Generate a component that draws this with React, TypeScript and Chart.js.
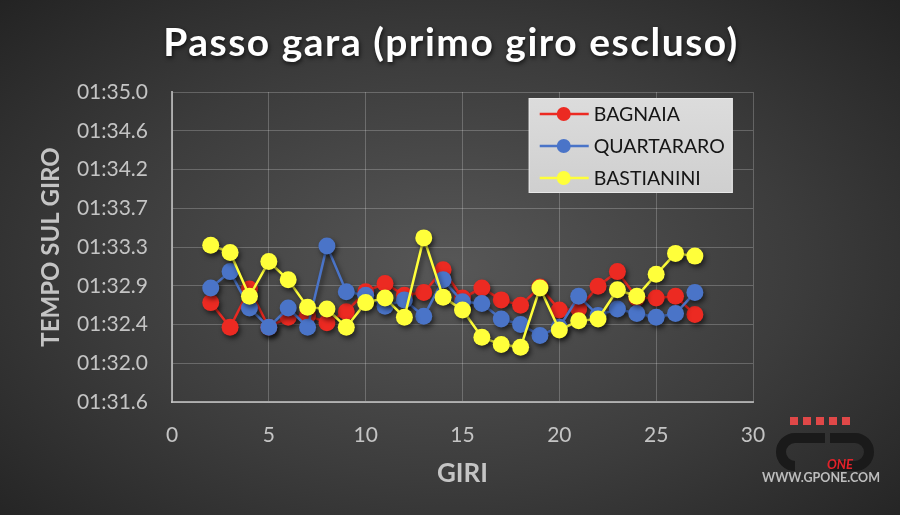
import React, { useEffect, useRef } from "react";
import { Chart, registerables } from "chart.js";

Chart.register(...registerables);

const laps = [2, 3, 4, 5, 6, 7, 8, 9, 10, 11, 12, 13, 14, 15, 16, 17, 18, 19, 20, 21, 22, 23, 24, 25, 26, 27];
const bagnaia = [92.69, 92.42, 92.84, 92.42, 92.53, 92.55, 92.47, 92.59, 92.81, 92.9, 92.77, 92.8, 93.05, 92.74, 92.85, 92.72, 92.66, 92.86, 92.61, 92.62, 92.87, 93.03, 92.74, 92.74, 92.76, 92.56];
const quartararo = [92.85, 93.03, 92.63, 92.42, 92.63, 92.42, 93.31, 92.81, 92.77, 92.65, 92.72, 92.54, 92.94, 92.7, 92.68, 92.51, 92.45, 92.33, 92.42, 92.76, 92.55, 92.62, 92.57, 92.53, 92.57, 92.8];
const bastianini = [93.32, 93.24, 92.76, 93.14, 92.94, 92.64, 92.62, 92.42, 92.69, 92.74, 92.53, 93.4, 92.75, 92.61, 92.31, 92.23, 92.2, 92.85, 92.39, 92.49, 92.51, 92.83, 92.76, 93.0, 93.23, 93.2];
const seriesNames = ["BAGNAIA", "QUARTARARO", "BASTIANINI"];
const yTickValues = [91.6, 92.025, 92.45, 92.875, 93.3, 93.725, 94.15, 94.575, 95.0];
const yTickLabels = ["01:31.6", "01:32.0", "01:32.4", "01:32.9", "01:33.3", "01:33.7", "01:34.2", "01:34.6", "01:35.0"];
const titleText = "Passo gara (primo giro escluso)";
const xTitle = "GIRI";
const yTitle = "TEMPO SUL GIRO";

const COLORS = ["#ec2a22", "#4a74c8", "#ffff3a"];
const FONT = "Lato, 'Open Sans', sans-serif";

export default function App() {
  const ref = useRef<HTMLCanvasElement | null>(null);

  useEffect(() => {
    const canvas = ref.current;
    if (!canvas) return;
    const mk = (data: number[]) => laps.map((x, i) => ({ x, y: data[i] }));
    const all = [bagnaia, quartararo, bastianini];

    const deco = {
      id: "deco",
      beforeDatasetsDraw(chart: any) {
        const ctx = chart.ctx;
        ctx.save();
        ctx.shadowColor = "rgba(0,0,0,0.55)";
        ctx.shadowBlur = 5;
        ctx.shadowOffsetX = 2;
        ctx.shadowOffsetY = 3;
      },
      afterDatasetsDraw(chart: any) {
        chart.ctx.restore();
      },
      afterDraw(chart: any) {
        const ctx = chart.ctx;
        const a = chart.chartArea;
        ctx.save();
        // title
        ctx.fillStyle = "#ffffff";
        ctx.shadowColor = "rgba(0,0,0,0.7)";
        ctx.shadowBlur = 4;
        ctx.shadowOffsetX = 1;
        ctx.shadowOffsetY = 2;
        ctx.font = `bold 39px ${FONT}`;
        (ctx as any).letterSpacing = "1.5px";
        ctx.textAlign = "center";
        ctx.textBaseline = "middle";
        ctx.fillText(titleText, 451, 43);
        (ctx as any).letterSpacing = "0px";
        ctx.shadowColor = "transparent";
        // axis titles
        ctx.fillStyle = "#c4c4c4";
        ctx.font = `bold 26px ${FONT}`;
        ctx.fillText(xTitle, (a.left + a.right) / 2, 474);
        ctx.font = `bold 24px ${FONT}`;
        ctx.save();
        ctx.translate(51, (a.top + a.bottom) / 2);
        ctx.rotate(-Math.PI / 2);
        ctx.fillText(yTitle, 0, 0);
        ctx.restore();

        // legend
        const lx = a.left + (a.right - a.left) * 0.614;
        const ly = a.top + 6;
        const lw = 204;
        const lh = 95;
        const g = ctx.createLinearGradient(0, ly, 0, ly + lh);
        g.addColorStop(0, "#dcdcdc");
        g.addColorStop(1, "#cfcfcf");
        ctx.fillStyle = g;
        ctx.fillRect(lx, ly, lw, lh);
        ctx.strokeStyle = "#e8e8e8";
        ctx.lineWidth = 1;
        ctx.strokeRect(lx + 0.5, ly + 0.5, lw - 1, lh - 1);
        ctx.textAlign = "left";
        ctx.font = `19.5px ${FONT}`;
        seriesNames.forEach((name, i) => {
          const yy = ly + 16 + i * 32;
          ctx.strokeStyle = COLORS[i];
          ctx.lineWidth = 2.5;
          ctx.beginPath();
          ctx.moveTo(lx + 11, yy);
          ctx.lineTo(lx + 60, yy);
          ctx.stroke();
          ctx.fillStyle = COLORS[i];
          ctx.beginPath();
          ctx.arc(lx + 35, yy, 7, 0, Math.PI * 2);
          ctx.fill();
          ctx.fillStyle = "#151515";
          ctx.fillText(name, lx + 65, yy + 1);
        });

        // watermark logo
        ctx.fillStyle = "#e04848";
        for (let i = 0; i < 5; i++) ctx.fillRect(790 + i * 13, 417, 8, 8);
        ctx.strokeStyle = "#1a1a1a";
        ctx.lineWidth = 10;
        ctx.beginPath();
        ctx.moveTo(830, 438);
        ctx.lineTo(855, 438);
        ctx.arc(855, 452, 14, -Math.PI / 2, Math.PI / 2);
        ctx.lineTo(830, 466);
        ctx.stroke();
        ctx.beginPath();
        ctx.arc(795, 452, 14, Math.PI * 0.5, Math.PI * 1.5);
        ctx.lineTo(825, 438);
        ctx.stroke();
        ctx.fillStyle = "#e2222a";
        ctx.font = `italic bold 13px ${FONT}`;
        ctx.fillText("ONE", 827, 465);
        ctx.fillStyle = "#bdbdbd";
        ctx.font = `bold 12.5px ${FONT}`;
        ctx.fillText("WWW.GPONE.COM", 762, 478);
        ctx.restore();
      },
    };

    const chart = new Chart(canvas, {
      type: "line",
      data: {
        datasets: all.map((d, i) => ({
          label: seriesNames[i],
          data: mk(d),
          borderColor: COLORS[i],
          backgroundColor: COLORS[i],
          pointBackgroundColor: COLORS[i],
          pointBorderColor: COLORS[i],
          pointRadius: 8.5,
          pointBorderWidth: 0,
          borderWidth: 2.5,
          tension: 0,
          order: 3 - i,
        })),
      },
      options: {
        animation: false,
        responsive: false,
        maintainAspectRatio: false,
        layout: { padding: { left: 0, right: 147, top: 92, bottom: 0 } },
        plugins: { legend: { display: false }, title: { display: false }, tooltip: { enabled: false } },
        scales: {
          x: {
            type: "linear",
            min: 0,
            max: 30,
            ticks: { stepSize: 5, color: "#c4c4c4", font: { size: 21, family: FONT }, padding: 21, maxRotation: 0 },
            grid: { color: "rgba(255,255,255,0.22)", lineWidth: 1, drawTicks: false },
            border: { color: "rgba(200,200,200,0.75)", width: 2 },
            afterFit(s: any) {
              s.height = 113;
            },
          },
          y: {
            type: "linear",
            min: 91.6,
            max: 95.0,
            afterBuildTicks(s: any) {
              s.ticks = yTickValues.map((v) => ({ value: v }));
            },
            ticks: {
              color: "#c4c4c4",
              font: { size: 21, family: FONT },
              padding: 24,
              callback: (_v: any, i: number) => yTickLabels[i],
            },
            grid: { color: "rgba(255,255,255,0.22)", lineWidth: 1, drawTicks: false },
            border: { color: "rgba(200,200,200,0.75)", width: 2 },
            afterFit(s: any) {
              s.width = 172;
            },
          },
        },
      },
      plugins: [deco],
    });
    return () => chart.destroy();
  }, []);

  return (
    <div
      style={{
        position: "absolute",
        left: 0,
        top: 0,
        width: 900,
        height: 515,
        background: "radial-gradient(ellipse 70% 75% at 50% 52%, #575757 0%, #3c3c3c 55%, #232323 100%)",
      }}
    >
      <canvas ref={ref} width={900} height={515} style={{ display: "block", width: 900, height: 515 }} />
    </div>
  );
}
